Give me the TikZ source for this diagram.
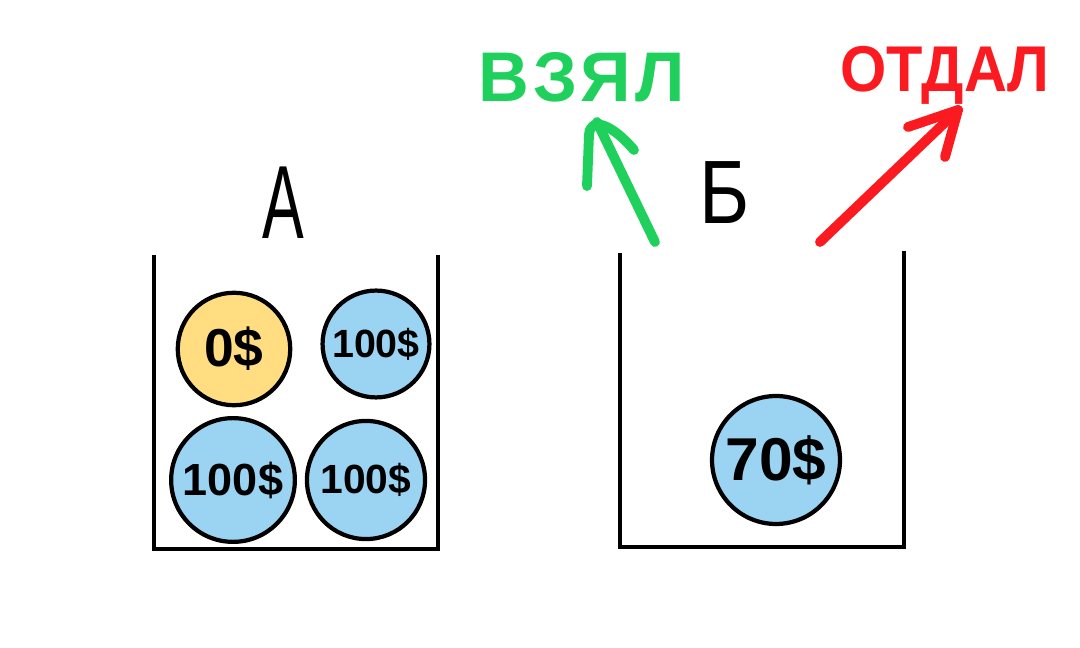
\documentclass[tikz,border=0pt]{standalone}
\usepackage{fontspec}
\setmainfont{Liberation Sans}
\newfontfamily\handfont[LetterSpace=7]{Liberation Sans}
\definecolor{coinblue}{HTML}{9BD3F2}
\definecolor{coinyellow}{HTML}{FFDD80}
\definecolor{takegreen}{HTML}{1FD15C}
\definecolor{givered}{HTML}{FB1A1F}
\tikzset{
  coin/.style={circle, draw=black, line width=3pt, inner sep=0pt},
  wall/.style={black, line width=2.6pt},
  hand/.style={line width=7pt, line cap=round, line join=round},
}
\begin{document}
\begin{tikzpicture}[x=0.025cm,y=-0.025cm]
    \useasboundingbox (0,0) rectangle (1080,648);
    % Below are the two boxes.
        \draw[wall] (154,255) -- (154,549) -- (438,549) -- (438,255);
        \draw[wall] (620,253) -- (620,547) -- (904,547) -- (904,251);
    % Below nodes are the coins.
        \node[coin, fill=coinyellow, minimum size=80pt, font=\bfseries\fontsize{38}{38}\selectfont] (zero) at (234,349) {0\$};
        \node[coin, fill=coinblue, minimum size=76pt, font=\bfseries\fontsize{28}{28}\selectfont] (hundredA) at (376,344) {100\$};
        \node[coin, fill=coinblue, minimum size=88pt, font=\bfseries\fontsize{32}{32}\selectfont] (hundredB) at (233,480) {100\$};
        \node[coin, fill=coinblue, minimum size=84pt, font=\bfseries\fontsize{29}{29}\selectfont] (hundredC) at (366,480) {100\$};
        \node[coin, fill=coinblue, minimum size=91pt, font=\bfseries\fontsize{43}{43}\selectfont] (seventy) at (776,460) {70\$};
    % Below nodes are the labels.
        \node[font=\fontsize{74}{74}\selectfont, xscale=.6] (labelA) at (283,203) {А};
        \node[font=\fontsize{64}{64}\selectfont, xscale=.85] (labelB) at (725,193) {Б};
        \node[font=\handfont\bfseries\fontsize{50}{50}\selectfont, text=takegreen] (took) at (582,77) {ВЗЯЛ};
        \node[font=\bfseries\fontsize{46}{46}\selectfont, text=givered, xscale=.92] (gave) at (945,75) {ОТДАЛ};
    % This draws the arrows.
        \coordinate (greenStart) at (655,242);
        \coordinate (greenTip) at (597,122);
        \coordinate (greenLeft) at (587,186);
        \coordinate (greenBend) at (589,135);
        \coordinate (greenRight) at (634,150);
        \coordinate (redStart) at (820,242);
        \coordinate (redTip) at (958,110);
        \coordinate (redLeft) at (908,127);
        \coordinate (redRight) at (945,157);
        \draw[hand, takegreen] (greenStart) -- (greenTip);
        \draw[hand, takegreen] (greenLeft) -- (greenBend) .. controls (590,116) and (612,124) .. (greenRight);
        \draw[hand, givered] (redStart) -- (redTip);
        \draw[hand, givered] (redLeft) -- (redTip) -- (redRight);
    \end{tikzpicture}
\end{document}
